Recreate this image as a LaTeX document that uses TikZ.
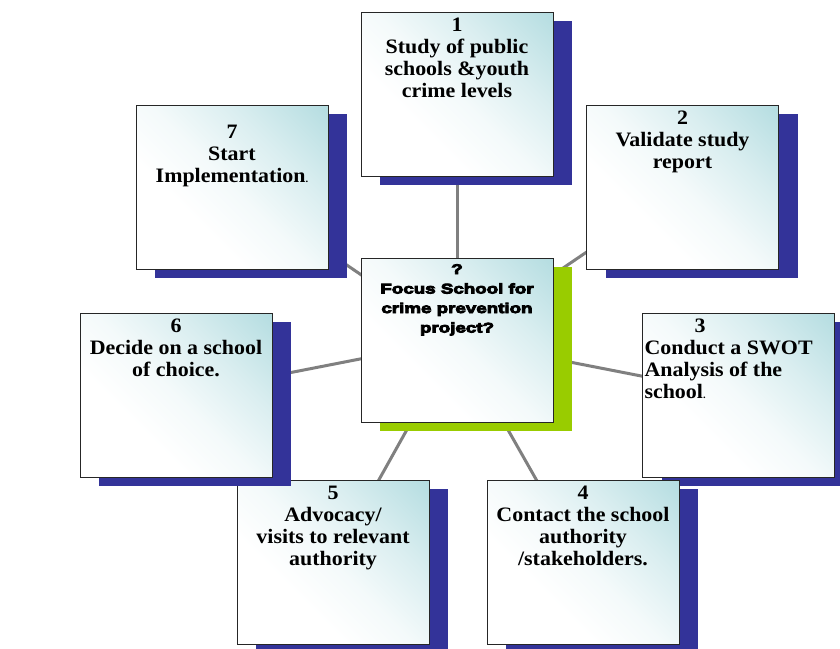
\documentclass[tikz,border=0pt]{standalone}
\usepackage{fontspec}
\setmainfont{Liberation Serif}[FakeStretch=1.07]
\newfontfamily\heavysans{Liberation Sans}[FakeStretch=1.34,BoldFeatures={FakeBold=6}]
\usetikzlibrary{shadows,backgrounds}
\definecolor{boxteal}{RGB}{181,221,225}
\colorlet{boxtealmid}{boxteal!50!white}
\colorlet{boxteallow}{boxteal!15!white}
\definecolor{shadowblue}{RGB}{51,51,153}
\definecolor{shadowgreen}{RGB}{153,204,0}
\definecolor{linegray}{RGB}{128,128,128}
\pgfdeclareverticalshading{boxshade}{100bp}{color(0bp)=(white); color(36bp)=(white); color(50bp)=(boxteallow); color(66bp)=(boxtealmid); color(85bp)=(boxteal); color(100bp)=(boxteal)}
\newcommand\boxtxt[2]{\parbox[t][164pt][t]{192pt}{\centering\rule{0pt}{#1}#2}}
\newcommand\smalldot{{\fontsize{10}{10}\selectfont.}}
\begin{document}
\begin{tikzpicture}[x=1pt,y=-1pt,
  basebox/.style={draw=black!85, line width=0.9pt, inner sep=0pt, outer sep=0pt,
    shading=boxshade, shading angle=-45},
  box/.style={basebox, drop shadow={shadow xshift=19pt, shadow yshift=-9pt, fill=shadowblue, opacity=1},
    font=\fontsize{20.5}{22}\selectfont\bfseries},
  centerbox/.style={basebox, drop shadow={shadow xshift=19pt, shadow yshift=-9pt, fill=shadowgreen, opacity=1},
    font=\heavysans\bfseries\fontsize{14}{19.5}\selectfont},
  conn/.style={draw=linegray, line width=3pt}]
\useasboundingbox (0,0) rectangle (840,648);
\node[box] (b1) at (457,94) {\boxtxt{19pt}{1\\Study of public\\schools \&youth\\crime levels}};
\node[box] (b2) at (682.5,187) {\boxtxt{19pt}{2\\Validate study\\report}};
\node[box] (b3) at (738.5,395) {\parbox[t][164pt][t]{192pt}{\raggedright\leftskip=2pt\rule{0pt}{19pt}\hspace*{50pt}3\\Conduct a SWOT\\Analysis of the\\school\smalldot}};
\node[box] (b4) at (583,562) {\boxtxt{19pt}{4\\Contact the school\\authority\\/stakeholders.}};
\node[box] (b5) at (333,562) {\boxtxt{19pt}{5\\Advocacy/\\visits to relevant\\authority}};
\node[box] (b6) at (176,395) {\boxtxt{19pt}{6\\Decide on a school\\of choice.}};
\node[box] (b7) at (232,187) {\boxtxt{33pt}{7\\Start\\Implementation\smalldot}};
\node[centerbox] (c) at (457,340) {\boxtxt{16pt}{?\\Focus School for\\crime prevention\\project?}};
\begin{scope}[on background layer]
\fill[white] (0,0) rectangle (840,648);
\foreach \b in {b1,b2,b3,b4,b5,b6,b7}{\draw[conn] (c.center) -- (\b.center);}
\end{scope}
\end{tikzpicture}
\end{document}
